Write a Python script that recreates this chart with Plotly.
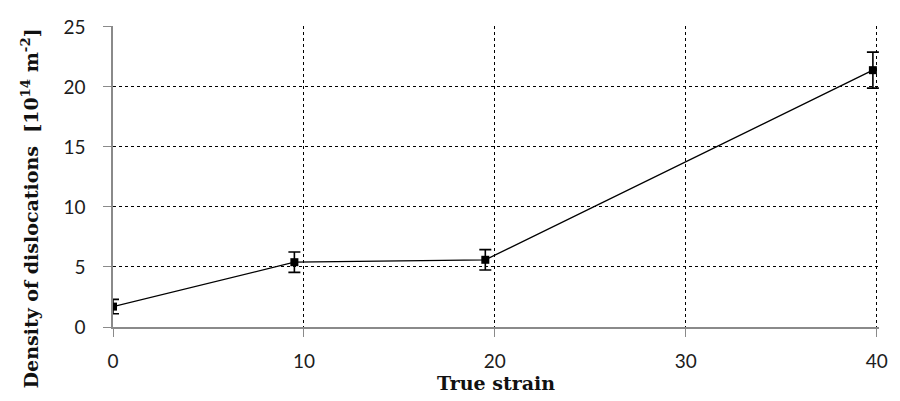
import plotly.graph_objects as go

# True strain vs. dislocation density (with measurement scatter)
true_strain = [0.0, 9.5, 19.5, 39.8]
density = [1.7, 5.4, 5.6, 21.4]
density_err = [0.6, 0.85, 0.85, 1.5]

x_ticks = [0, 10, 20, 30, 40]
y_ticks = [0, 5, 10, 15, 20, 25]

# ranges padded a hair so the gridlines at 40 and 25 are still drawn
x_range = [0, 40.12]
y_range = [0, 25.08]

tick_font = dict(family="Lato, 'Open Sans', sans-serif", size=19, color="#1c1c1c")
title_font = dict(family="'DejaVu Serif', 'Liberation Serif', serif", size=19, color="#111")

fig = go.Figure()
fig.add_trace(go.Scatter(
    x=true_strain,
    y=density,
    mode="lines+markers",
    line=dict(color="black", width=1.3),
    marker=dict(symbol="square", size=8, color="black"),
    error_y=dict(type="data", array=density_err, visible=True,
                 color="black", thickness=1.6, width=6),
    showlegend=False,
))

axis_common = dict(
    ticks="outside",
    ticklen=8,
    tickcolor="#8a8a8a",
    showline=True,
    linecolor="#8a8a8a",
    linewidth=1.5,
    showgrid=True,
    gridcolor="black",
    griddash="dot",
    gridwidth=1,
    zeroline=False,
    tickfont=tick_font,
)

fig.update_layout(
    width=900,
    height=401,
    margin=dict(l=113, r=17, t=26, b=74),
    paper_bgcolor="white",
    plot_bgcolor="white",
    xaxis=dict(
        range=x_range,
        tickvals=x_ticks,
        ticklabelstandoff=8,
        title=dict(text="<b>True strain</b>", font=title_font, standoff=2),
        **axis_common,
    ),
    yaxis=dict(
        range=y_range,
        tickvals=y_ticks,
        ticklabelstandoff=14,
        **axis_common,
    ),
)

# vertical axis title, placed as an annotation so it can sit slightly low
fig.add_annotation(
    text="<b>Density of dislocations  [10<sup>14</sup> m<sup>-2</sup>]</b>",
    xref="paper", yref="paper",
    x=-0.108, y=0.395,
    xanchor="center", yanchor="middle",
    textangle=-90,
    showarrow=False,
    font=dict(family="'DejaVu Serif', 'Liberation Serif', serif", size=19, color="#111"),
)

fig.write_html("out.html")
